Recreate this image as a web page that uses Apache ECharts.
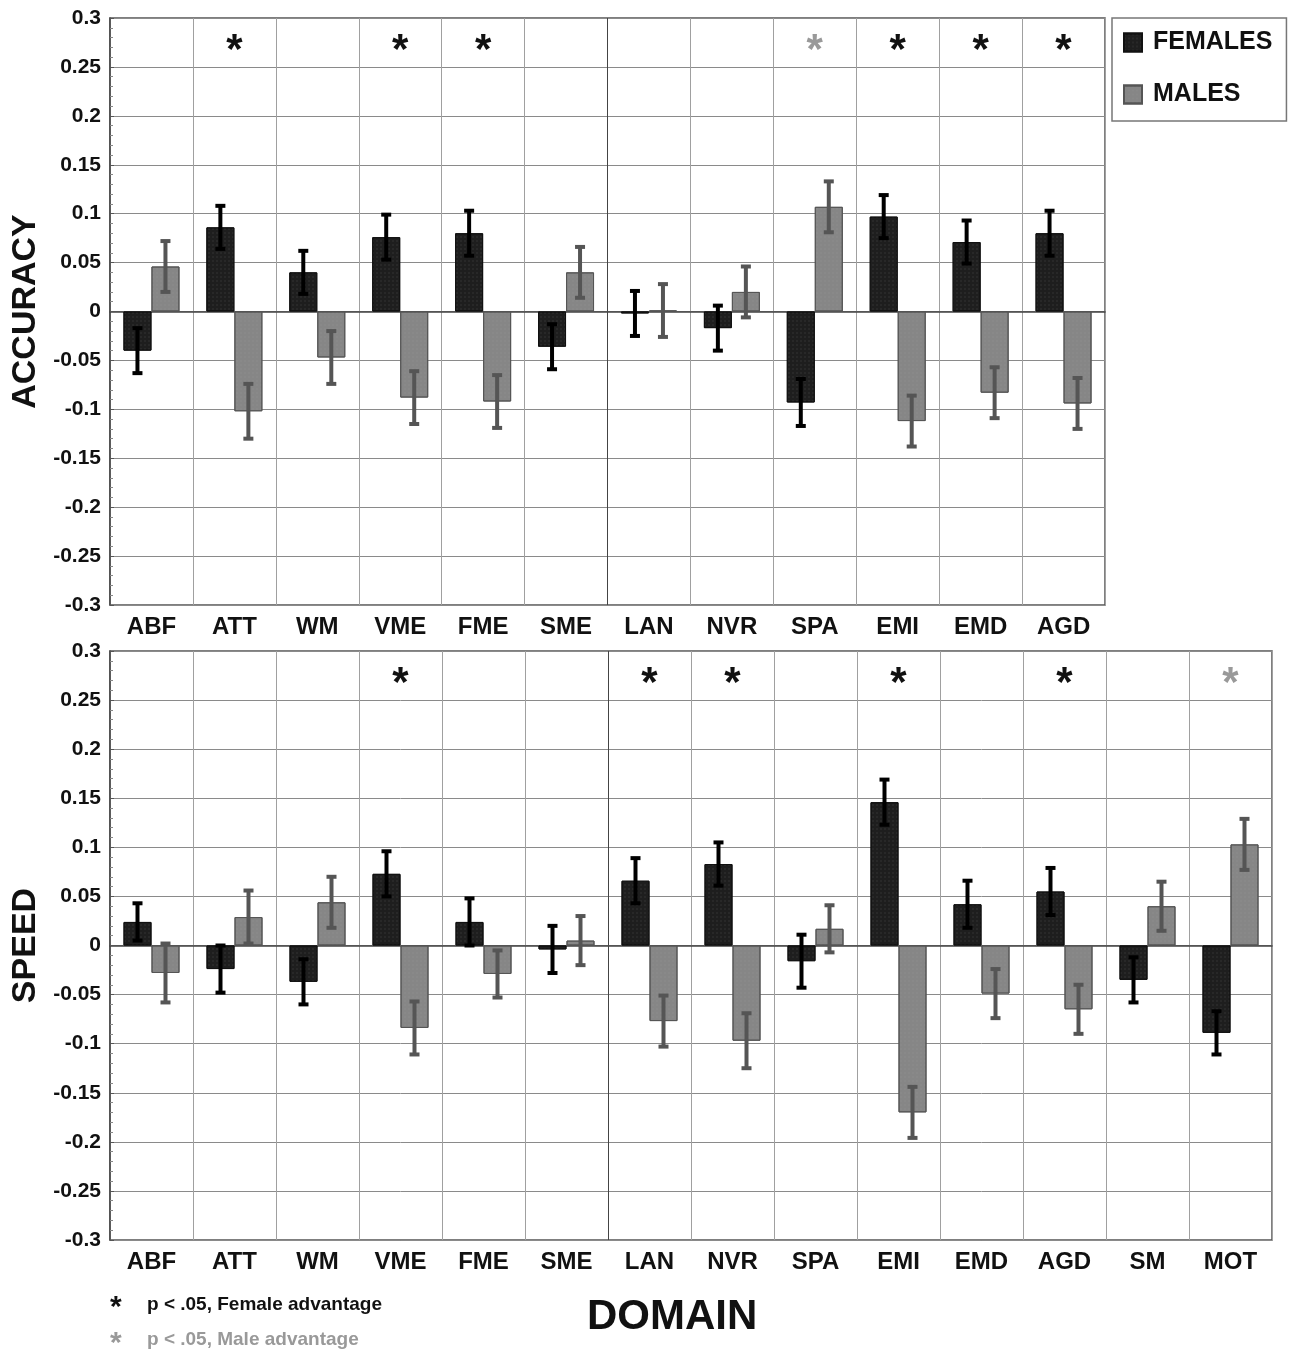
<!DOCTYPE html>
<html lang="en">
  <head>
    <meta charset="UTF-8" />
    <title>Accuracy and speed by domain</title>
    <style>
      html, body { margin: 0; padding: 0; background: #fff; }
      #main { width: 1295px; height: 1353px; }
    </style>
    <script src="https://cdn.jsdelivr.net/npm/echarts@6/dist/echarts.min.js"></script>
  </head>
  <body>
    <div id="main"></div>
    <script>
      // categories
      const accDomains = ['ABF', 'ATT', 'WM', 'VME', 'FME', 'SME', 'LAN', 'NVR', 'SPA', 'EMI', 'EMD', 'AGD']
      const spdDomains = ['ABF', 'ATT', 'WM', 'VME', 'FME', 'SME', 'LAN', 'NVR', 'SPA', 'EMI', 'EMD', 'AGD', 'SM', 'MOT']

      // accuracy (top panel)
      const accFemales = [-0.040, 0.086, 0.040, 0.076, 0.080, -0.036, -0.002, -0.017, -0.093, 0.097, 0.071, 0.080]
      const accFemErr = [0.023, 0.022, 0.022, 0.023, 0.023, 0.023, 0.023, 0.023, 0.024, 0.022, 0.022, 0.023]
      const accMales = [0.046, -0.102, -0.047, -0.088, -0.092, 0.040, 0.001, 0.020, 0.107, -0.112, -0.083, -0.094]
      const accMaleErr = [0.026, 0.028, 0.027, 0.027, 0.027, 0.026, 0.027, 0.026, 0.026, 0.026, 0.026, 0.026]
      // significance: F = female advantage, M = male advantage
      const accStars = ['', 'F', '', 'F', 'F', '', '', '', 'M', 'F', 'F', 'F']

      // speed (bottom panel)
      const spdFemales = [0.024, -0.024, -0.037, 0.073, 0.024, -0.004, 0.066, 0.083, -0.016, 0.146, 0.042, 0.055, -0.035, -0.089]
      const spdFemErr = [0.019, 0.024, 0.023, 0.023, 0.024, 0.024, 0.023, 0.022, 0.027, 0.023, 0.024, 0.024, 0.023, 0.022]
      const spdMales = [-0.028, 0.029, 0.044, -0.084, -0.029, 0.005, -0.077, -0.097, 0.017, -0.170, -0.049, -0.065, 0.040, 0.103]
      const spdMaleErr = [0.030, 0.027, 0.026, 0.027, 0.024, 0.025, 0.026, 0.028, 0.024, 0.026, 0.025, 0.025, 0.025, 0.026]
      const spdStars = ['', '', '', 'F', '', '', 'F', 'F', '', 'F', '', 'F', '', 'M']

      const STAR_Y = 0.287
      const BAR_W = 28
      const FONT = '"Liberation Sans", Arial, Helvetica, sans-serif'
      const FEM_COLOR = '#1e1e1e'
      const MALE_COLOR = '#868686'

      const chart = echarts.init(document.getElementById('main'))

      // vertical split lines: the one between SME and LAN is darker
      function splitColors(n) {
        const arr = []
        for (let i = 0; i <= n; i++) arr.push(i === 6 ? '#444' : '#a0a0a0')
        return arr
      }

      function tickLabel(v) {
        return String(Math.round(v * 100) / 100)
      }

      function errorBars(sign, color) {
        return function (params, api) {
          const i = api.value(0)
          const v = api.value(1)
          const e = api.value(2)
          const hi = api.coord([i, v + e])
          const lo = api.coord([i, v - e])
          const x = hi[0] + sign * BAR_W / 2
          const cap = 5
          const st = { stroke: color, lineWidth: 4 }
          return {
            type: 'group',
            children: [
              { type: 'line', shape: { x1: x, y1: hi[1], x2: x, y2: lo[1] }, style: st },
              { type: 'line', shape: { x1: x - cap, y1: hi[1], x2: x + cap, y2: hi[1] }, style: st },
              { type: 'line', shape: { x1: x - cap, y1: lo[1], x2: x + cap, y2: lo[1] }, style: st }
            ]
          }
        }
      }

      function starRender(params, api) {
        const p = api.coord([api.value(0), api.value(1)])
        const kind = api.value(2)
        return {
          type: 'text',
          x: p[0],
          y: p[1],
          style: {
            text: '*',
            fill: kind === 1 ? '#999' : '#111',
            font: 'bold 42px ' + FONT,
            align: 'center',
            verticalAlign: 'top'
          }
        }
      }

      function starData(stars) {
        const out = []
        stars.forEach((s, i) => {
          if (s) out.push([i, STAR_Y, s === 'M' ? 1 : 0])
        })
        return out
      }

      const femStyle = {
        color: FEM_COLOR,
        borderColor: '#111',
        borderWidth: 1,
        decal: {
          symbol: 'rect',
          symbolSize: 0.5,
          dashArrayX: [2, 2],
          dashArrayY: [2, 2],
          color: 'rgba(255,255,255,0.2)'
        }
      }
      const maleStyle = {
        color: MALE_COLOR,
        borderColor: '#555',
        borderWidth: 1,
        decal: {
          symbol: 'rect',
          symbolSize: 0.5,
          dashArrayX: [2, 2],
          dashArrayY: [2, 2],
          color: 'rgba(255,255,255,0.12)'
        }
      }

      function xAxis(gridIndex, data) {
        return {
          type: 'category',
          gridIndex: gridIndex,
          data: data,
          axisLine: { lineStyle: { color: '#444', width: 1.5 } },
          axisTick: { show: false },
          axisLabel: { color: '#111', fontFamily: FONT, fontWeight: 'bold', fontSize: 24, margin: 10 },
          splitLine: { show: true, lineStyle: { color: splitColors(data.length), width: 1 } }
        }
      }

      function yAxis(gridIndex, name) {
        return {
          type: 'value',
          gridIndex: gridIndex,
          min: -0.3,
          max: 0.3,
          interval: 0.05,
          name: name,
          nameLocation: 'middle',
          nameRotate: 90,
          nameGap: 64,
          nameTextStyle: { color: '#111', fontFamily: FONT, fontWeight: 'bold', fontSize: 34 },
          axisLine: { show: true, lineStyle: { color: '#444', width: 1.5 } },
          axisTick: { show: true, inside: true, length: 4, lineStyle: { color: '#555' } },
          minorTick: { show: true, splitNumber: 5, length: 3, lineStyle: { color: '#888' } },
          axisLabel: { color: '#111', fontFamily: FONT, fontWeight: 'bold', fontSize: 21, margin: 9, formatter: tickLabel },
          splitLine: { show: true, lineStyle: { color: '#8a8a8a', width: 1 } }
        }
      }

      function panelSeries(idx, fem, femErr, male, maleErr, stars) {
        return [
          {
            name: 'FEMALES', type: 'bar', xAxisIndex: idx, yAxisIndex: idx,
            data: fem, barWidth: BAR_W, barGap: '0%', itemStyle: femStyle
          },
          {
            name: 'MALES', type: 'bar', xAxisIndex: idx, yAxisIndex: idx,
            data: male, barWidth: BAR_W, barGap: '0%', itemStyle: maleStyle
          },
          {
            type: 'custom', xAxisIndex: idx, yAxisIndex: idx, z: 5,
            renderItem: errorBars(-1, '#000'),
            data: fem.map((v, i) => [i, v, femErr[i]])
          },
          {
            type: 'custom', xAxisIndex: idx, yAxisIndex: idx, z: 5,
            renderItem: errorBars(1, '#555'),
            data: male.map((v, i) => [i, v, maleErr[i]])
          },
          {
            type: 'custom', xAxisIndex: idx, yAxisIndex: idx, z: 6, clip: false,
            renderItem: starRender,
            data: starData(stars)
          }
        ]
      }

      const option = {
        animation: false,
        backgroundColor: '#fff',
        textStyle: { fontFamily: FONT },
        grid: [
          { left: 110, top: 18, width: 995, height: 587, show: true, borderColor: '#555', borderWidth: 1.5, backgroundColor: 'transparent' },
          { left: 110, top: 651, width: 1162, height: 589, show: true, borderColor: '#555', borderWidth: 1.5, backgroundColor: 'transparent' }
        ],
        legend: {
          data: [{ name: 'FEMALES', icon: 'rect' }, { name: 'MALES', icon: 'rect' }],
          orient: 'vertical',
          left: 1112,
          top: 18,
          padding: [12, 14, 14, 11],
          itemGap: 27,
          itemWidth: 18,
          itemHeight: 18,
          borderColor: '#777',
          borderWidth: 1.5,
          textStyle: { color: '#111', fontFamily: FONT, fontWeight: 'bold', fontSize: 25, padding: [0, 0, 0, 6] }
        },
        xAxis: [xAxis(0, accDomains), xAxis(1, spdDomains)],
        yAxis: [yAxis(0, 'ACCURACY'), yAxis(1, 'SPEED')],
        series: [
          ...panelSeries(0, accFemales, accFemErr, accMales, accMaleErr, accStars),
          ...panelSeries(1, spdFemales, spdFemErr, spdMales, spdMaleErr, spdStars)
        ],
        graphic: [
          {
            type: 'text', left: 587, top: 1296,
            style: { text: 'DOMAIN', fill: '#111', font: 'bold 42px ' + FONT }
          },
          {
            type: 'text', left: 110, top: 1293,
            style: { text: '*', fill: '#111', font: 'bold 30px ' + FONT }
          },
          {
            type: 'text', left: 147, top: 1295,
            style: { text: 'p < .05, Female advantage', fill: '#111', font: 'bold 19px ' + FONT }
          },
          {
            type: 'text', left: 110, top: 1329,
            style: { text: '*', fill: '#999', font: 'bold 30px ' + FONT }
          },
          {
            type: 'text', left: 147, top: 1330,
            style: { text: 'p < .05, Male advantage', fill: '#999', font: 'bold 19px ' + FONT }
          }
        ]
      }

      chart.setOption(option)
    </script>
  </body>
</html>
